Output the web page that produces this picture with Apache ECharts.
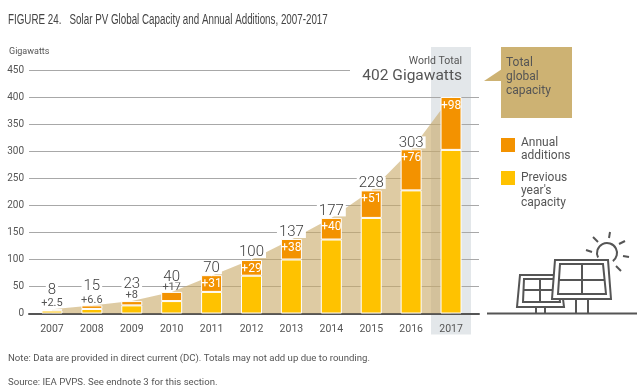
<!DOCTYPE html>
<html>
<head>
<meta charset="utf-8">
<title>Solar PV Global Capacity and Annual Additions, 2007-2017</title>
<script src="https://cdn.jsdelivr.net/npm/echarts@6/dist/echarts.min.js"></script>
<style>
  html, body { margin: 0; padding: 0; background: #fff; }
  #chart { width: 641px; height: 392px; }
</style>
</head>
<body>
<div id="chart"></div>
<script>
const years = ['2007', '2008', '2009', '2010', '2011', '2012', '2013', '2014', '2015', '2016', '2017']
const previousCapacity = [5.5, 8.4, 15, 23, 40, 70, 100, 137, 177, 228, 303]
const annualAdditions = [2.5, 6.6, 8, 17, 31, 29, 38, 40, 51, 76, 98]
const totalCapacity = [8, 15, 23, 40, 70, 100, 137, 177, 228, 303, 402]
const additionLabels = ['+2.5', '+6.6', '+8', '+17', '+31', '+29', '+38', '+40', '+51', '+76', '+98']
const yTicks = [0, 50, 100, 150, 200, 250, 300, 350, 400, 450]

const FONT = 'Roboto, "Liberation Sans", sans-serif'
const DARK = '#555'
const LINE = '#a8a8a8'
const ICON = '#555'
const ICON_W = 2

// the first years carry their addition above the bar instead of inside
const smallYears = 4

function poly (points, fill) {
  return {
    type: 'polygon',
    shape: { points: points },
    style: { fill: fill || null, stroke: ICON, lineWidth: ICON_W },
    z: 5
  }
}

function seg (x1, y1, x2, y2) {
  return {
    type: 'line',
    shape: { x1: x1, y1: y1, x2: x2, y2: y2 },
    style: { stroke: ICON, lineWidth: ICON_W },
    z: 5
  }
}

function text (x, y, str, size, align) {
  return {
    type: 'text',
    x: x,
    y: y,
    style: { text: str, fill: DARK, font: size + 'px ' + FONT, align: align || 'left', verticalAlign: 'middle' },
    z: 6
  }
}

function rect (x, y, w, h, fill, z) {
  return { type: 'rect', shape: { x: x, y: y, width: w, height: h }, style: { fill: fill }, z: z }
}

let chart = echarts.init(document.getElementById('chart'), null, { renderer: 'canvas' })
chart.setOption({
  animation: false,
  backgroundColor: '#fff',
  textStyle: { fontFamily: FONT },
  grid: [
    // wider grid, only for the gridlines and the baseline
    { left: 29, top: 70.5, width: 450, height: 243 },
    // data grid, one band per year
    { left: 32, top: 70.5, width: 439, height: 243 }
  ],
  xAxis: [
    {
      gridIndex: 0,
      type: 'value',
      min: 0,
      max: 1,
      axisLine: { show: true, lineStyle: { color: DARK, width: 2 } },
      axisTick: { show: false },
      axisLabel: { show: false },
      splitLine: { show: false }
    },
    {
      gridIndex: 1,
      type: 'category',
      data: years,
      axisLine: { show: false },
      axisTick: { show: false },
      axisLabel: { color: DARK, fontSize: 10.5, margin: 10, fontFamily: FONT },
      splitLine: { show: false }
    }
  ],
  yAxis: [
    {
      gridIndex: 0,
      type: 'value',
      min: yTicks[0],
      max: yTicks[yTicks.length - 1],
      interval: 50,
      axisLine: { show: false },
      axisTick: { show: false },
      axisLabel: { color: DARK, fontSize: 10, margin: 5, fontFamily: FONT, padding: [2, 0, 0, 0] },
      splitLine: { show: true, lineStyle: { color: LINE, width: 1 } }
    },
    {
      gridIndex: 1,
      type: 'value',
      min: yTicks[0],
      max: yTicks[yTicks.length - 1],
      interval: 50,
      show: false
    }
  ],
  series: [
    {
      name: 'Total global capacity',
      type: 'line',
      xAxisIndex: 1,
      yAxisIndex: 1,
      data: totalCapacity,
      symbol: 'none',
      lineStyle: { width: 0 },
      areaStyle: { color: '#c8a866', opacity: 0.6 },
      z: 1,
      silent: true
    },
    {
      name: 'Previous year\'s capacity',
      type: 'bar',
      stack: 'capacity',
      xAxisIndex: 1,
      yAxisIndex: 1,
      barWidth: 21,
      data: previousCapacity,
      itemStyle: { color: '#ffc200', borderColor: '#fff', borderWidth: 1 },
      z: 3
    },
    {
      name: 'Annual additions',
      type: 'bar',
      stack: 'capacity',
      xAxisIndex: 1,
      yAxisIndex: 1,
      barWidth: 21,
      data: annualAdditions.map((v, i) => ({
        value: v,
        label: i < smallYears
          ? { position: 'top', distance: i === 3 ? -1 : 0, color: DARK, fontSize: 11 }
          : { position: 'insideTop', distance: 3, color: '#fff', fontSize: 12 }
      })),
      itemStyle: { color: '#f39200', borderColor: '#fff', borderWidth: 1 },
      label: {
        show: true,
        fontFamily: FONT,
        formatter: p => additionLabels[p.dataIndex]
      },
      z: 3
    },
    {
      // only carries the total above each bar, 2017 is in the text block on top
      name: 'Total labels',
      type: 'line',
      xAxisIndex: 1,
      yAxisIndex: 1,
      data: totalCapacity.map((v, i) => ({
        value: v,
        label: { distance: [12, 12, 10, 8][i] || 0, show: i < years.length - 1 }
      })),
      symbolSize: 1,
      itemStyle: { color: 'rgba(0,0,0,0)' },
      lineStyle: { width: 0, opacity: 0 },
      label: {
        show: true,
        position: 'top',
        fontSize: 15,
        fontFamily: FONT,
        fontWeight: 300,
        color: '#3c3c3c',
        backgroundColor: '#fff',
        padding: [0, 2, -1, 2],
        lineHeight: 13
      },
      z: 4,
      silent: true
    }
  ],
  graphic: [
    // 2017 highlight, under the gridlines
    rect(431, 47, 40, 287.5, '#e3e7ea', -1),
    // World Total block hides the top gridline
    rect(350, 66, 81, 10, '#fff', 1),
    rect(431, 66, 48, 10, '#fff', 1),
    rect(431, 66, 40, 10, '#e3e7ea', 1),
    {
      type: 'text',
      x: 8,
      y: 20,
      scaleX: 0.7,
      style: { text: 'FIGURE 24.   Solar PV Global Capacity and Annual Additions, 2007-2017', fill: '#444', font: '14px "Liberation Sans", sans-serif', verticalAlign: 'middle' },
      z: 6
    },
    text(9, 51.5, 'Gigawatts', 9),
    text(462, 61, 'World Total', 10.5, 'right'),
    text(462, 76, '402 Gigawatts', 15.5, 'right'),

    // callout
    rect(501, 47, 71, 71, '#cdb273', 5),
    { type: 'polygon', shape: { points: [[484, 81], [502, 69], [502, 81]] }, style: { fill: '#cdb273' }, z: 5 },
    text(506, 63, 'Total', 12),
    text(506, 76.5, 'global', 12),
    text(506, 90.5, 'capacity', 12),

    // legend
    rect(501, 138, 14, 14, '#f39200', 5),
    text(521, 143, 'Annual', 12),
    text(521, 156, 'additions', 12),
    rect(501, 171, 14, 14, '#ffc200', 5),
    text(521, 178, 'Previous', 12),
    text(521, 191, 'year\'s', 12),
    text(521, 203, 'capacity', 12),

    // notes
    text(8, 359, 'Note: Data are provided in direct current (DC). Totals may not add up due to rounding.', 9.6),
    text(8, 383, 'Source: IEA PVPS. See endnote 3 for this section.', 9.6),

    // solar panel icon
    { type: 'line', shape: { x1: 487, y1: 313.5, x2: 637, y2: 313.5 }, style: { stroke: ICON, lineWidth: 2 }, z: 5 },
    seg(536, 307, 536, 313),
    seg(545, 307, 545, 313),
    poly([[520, 275], [560, 275], [564, 307], [517, 307]]),
    poly([[524, 279], [558, 279], [560, 302], [523, 302]]),
    seg(540, 279, 540, 302),
    seg(524, 290, 559, 290),
    poly([[555, 260], [608, 260], [611, 299], [552, 299]], '#fff'),
    poly([[560, 264], [603, 264], [606, 294], [558, 294]]),
    seg(582, 264, 582, 294),
    seg(559, 280, 605, 280),
    seg(576, 299, 576, 313),
    seg(588, 299, 588, 313),
    {
      type: 'arc',
      shape: { cx: 607, cy: 253, r: 10, startAngle: Math.PI * 0.85, endAngle: Math.PI * 0.3 },
      style: { fill: null, stroke: ICON, lineWidth: ICON_W },
      z: 4
    },
    seg(593, 237, 598, 242),
    seg(610, 232, 609, 238),
    seg(625, 241, 619, 244),
    seg(629, 257, 623, 256),
    seg(621, 271, 616, 266),
    seg(586, 250, 592, 252)
  ]
})
</script>
</body>
</html>
